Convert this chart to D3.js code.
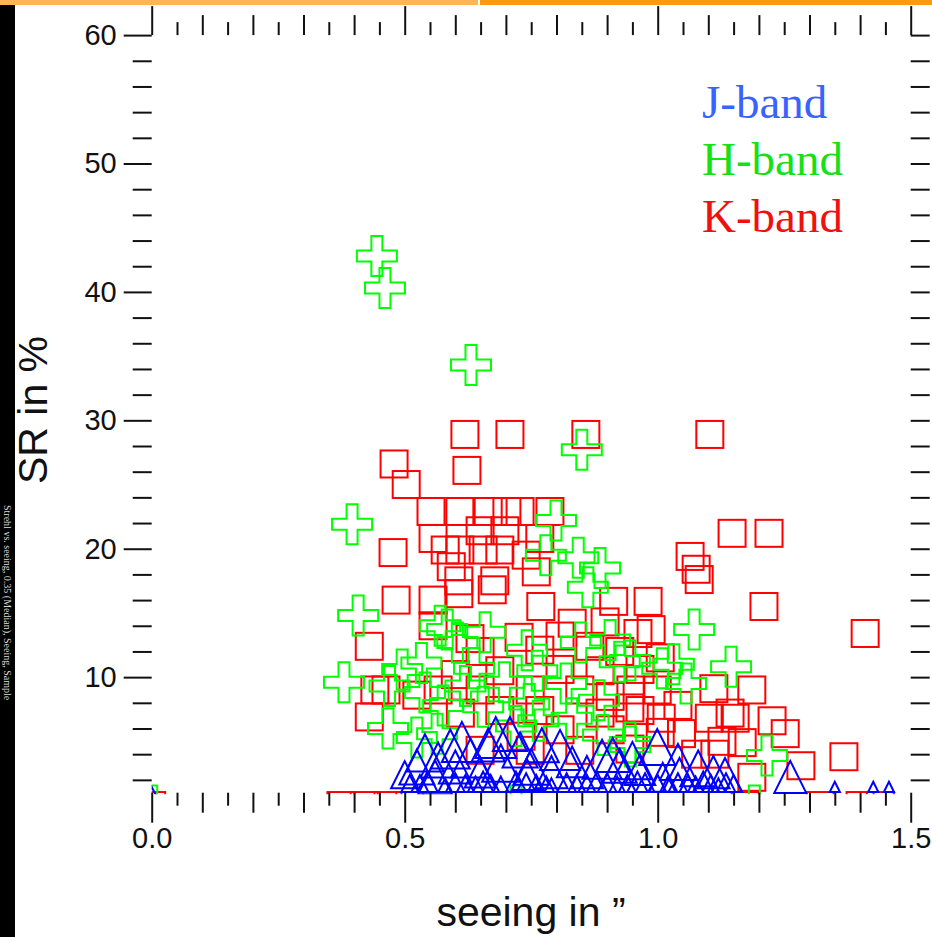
<!DOCTYPE html>
<html>
<head>
<meta charset="utf-8">
<script src="https://cdn.jsdelivr.net/npm/d3@7"></script>
<style>
body { margin: 0; background: #fff; }
svg { display: block; }
</style>
</head>
<body>
<script>
// K-band points (red squares): seeing in arcsec, Strehl ratio in %
var kSeeing = [0.619, 0.708, 0.858, 1.103, 0.479, 0.503, 0.623, 1.410, 1.147, 1.220,
               1.064, 1.076, 1.082, 1.210, 0.981, 0.961, 0.987, 1.186, 0.999, 1.111,
               1.226, 1.252, 1.102, 1.143, 1.368, 1.283, 1.186, 1.127, 1.007, 1.047,
               0.947, 0.945, 1.153, 1.167, 0.483, 0.430, 0.441, 0.463, 0.430, 0.477,
               0.552, 0.609, 0.665, 0.702, 0.728, 0.787, 0.556, 0.649, 0.698, 0.767,
               0.580, 0.609, 0.655, 0.688, 0.740, 0.592, 0.607, 0.678, 0.760, 0.556,
               0.607, 0.673, 0.769, 0.831, 0.896, 0.913, 0.556, 0.726, 0.629, 0.807,
               0.866, 0.649, 0.767, 0.925, 1.005, 0.688, 0.807, 0.886, 0.965, 0.600,
               0.649, 0.748, 0.846, 0.906, 0.566, 0.524, 0.688, 0.767, 0.886, 0.965,
               1.040, 0.610, 0.807, 0.906, 1.005, 0.730, 0.649, 0.748, 0.846, 0.945,
               1.075, 1.113, 0.000, 0.374, 0.420, 0.467, 0.510, 1.173, 1.321, 1.400, 1.440];
var kSR = [28.9, 28.9, 28.9, 28.9, 26.6, 25.0, 26.1, 13.4, 21.2, 21.2,
           19.4, 18.4, 17.6, 15.5, 15.9, 13.4, 13.7, 9.0, 9.0, 9.1,
           6.6, 5.6, 6.8, 7.2, 3.8, 3.1, 2.2, 5.0, 6.8, 5.6,
           9.0, 7.6, 6.8, 4.9, 16.0, 12.4, 9.0, 9.0, 6.9, 19.7,
           22.9, 22.9, 22.9, 22.9, 22.9, 22.9, 20.8, 21.4, 21.4, 20.8,
           19.9, 19.9, 19.9, 19.9, 19.5, 18.6, 17.5, 17.5, 18.2, 16.0,
           16.5, 16.8, 15.5, 14.2, 14.3, 15.9, 14.0, 13.1, 13.0, 13.2,
           12.4, 12.0, 12.1, 12.0, 11.5, 10.5, 10.6, 10.5, 10.6, 10.2,
           9.0, 9.0, 9.0, 8.5, 9.0, 8.6, 7.4, 7.4, 7.2, 7.4,
           7.8, 7.2, 5.9, 5.9, 5.7, 5.4, 4.3, 4.3, 4.3, 4.4,
           4.0, 4.0, 0.0, 0.0, 0.0, 0.0, 0.0, 0.0, 0.0, 0.0, 0.0];

// H-band points (green crosses)
var hSeeing = [0.445, 0.461, 0.631, 0.850, 0.396, 0.799, 0.779, 0.843, 0.886, 0.862,
               0.408, 1.072, 1.032, 1.056, 1.145, 0.945, 1.216, 0.946, 0.380, 0.495,
               0.533, 0.584, 0.604, 0.659, 0.637, 0.742, 0.762, 0.848, 0.925, 0.697,
               0.576, 0.655, 0.746, 0.819, 0.884, 0.467, 0.524, 0.564, 0.892, 0.945,
               0.764, 1.009, 0.906, 0.570, 0.470, 0.540, 0.620, 0.720, 0.830, 0.000,
               1.191, 0.720];
var hSR = [42.8, 40.3, 34.3, 27.7, 21.9, 22.2, 19.5, 19.3, 18.5, 17.0,
           14.8, 13.7, 11.0, 9.5, 10.8, 11.3, 3.9, 4.6, 9.6, 10.6,
           11.1, 13.7, 12.7, 13.5, 10.7, 12.1, 10.5, 12.7, 11.2, 9.6,
           7.8, 7.7, 7.9, 9.5, 8.2, 6.0, 5.3, 5.6, 5.5, 4.9,
           6.6, 10.7, 12.9, 14.0, 9.3, 8.8, 9.3, 6.2, 6.8, 0.0,
           0.0, 0.0];

// J-band points (blue triangles), with a relative symbol size
var jSeeing = [0.613, 0.665, 0.728, 0.807, 0.771, 0.831, 0.911, 0.566, 0.524, 0.600,
               0.649, 0.742, 0.999, 1.040, 1.133, 1.043, 1.262, 0.925, 0.965, 1.350,
               1.426, 1.457, 0.708, 0.500, 0.510, 0.545, 0.580, 0.620, 0.655, 0.690,
               0.720, 0.760, 0.790, 0.820, 0.860, 0.880, 0.940, 0.975, 1.020, 1.060,
               1.090, 1.120, 1.150, 0.000,
               0.560, 0.630, 0.690, 0.750, 0.790, 0.860, 0.890, 0.950, 1.080, 1.110,
               1.010, 0.540, 0.680, 0.590,
               0.530, 0.600, 0.640, 0.670, 0.740, 0.780, 0.840, 0.900, 0.920, 0.960,
               1.000, 1.040, 1.075, 1.105, 1.135];
var jSR = [4.95, 4.72, 4.33, 4.33, 4.70, 3.40, 3.94, 3.55, 3.00, 3.00,
           2.60, 2.40, 4.56, 3.40, 2.38, 2.38, 2.23, 3.10, 2.80, 1.45,
           1.45, 1.45, 5.57, 2.40, 1.72, 1.85, 1.59, 1.72, 1.85, 1.66,
           1.85, 1.72, 1.59, 1.79, 1.72, 1.85, 1.72, 1.79, 1.66, 1.72,
           1.85, 1.59, 1.72, 0.00,
           2.20, 3.70, 3.30, 3.00, 2.60, 2.60, 3.60, 3.50, 2.90, 2.60,
           2.20, 4.10, 5.30, 4.40,
           1.72, 1.79, 1.66, 1.72, 1.79, 1.66, 1.72, 1.79, 1.66, 1.85,
           1.72, 1.79, 1.66, 1.72, 1.79];
var jSymSize = [1.18, 0.97, 1.03, 1.18, 1.00, 0.90, 1.00, 1.03, 1.03, 0.97,
                0.90, 0.90, 1.06, 1.06, 1.00, 1.00, 0.94, 1.00, 0.90, 0.30,
                0.30, 0.30, 1.00, 0.80, 0.50, 0.60, 0.40, 0.50, 0.60, 0.45,
                0.60, 0.50, 0.40, 0.55, 0.50, 0.60, 0.50, 0.55, 0.45, 0.50,
                0.60, 0.40, 0.50, 1.10,
                1.00, 1.15, 1.10, 1.05, 0.95, 0.95, 1.15, 1.10, 1.05, 0.95,
                0.85, 1.10, 1.20, 1.15,
                0.50, 0.55, 0.45, 0.50, 0.55, 0.45, 0.50, 0.55, 0.45, 0.60,
                0.50, 0.55, 0.45, 0.50, 0.55];

// axis tick labels and legend
var xMajorTicks = [0.0, 0.5, 1.0, 1.5];
var yMajorTicks = [10, 20, 30, 40, 50, 60];
var bandNames = ["J-band", "H-band", "K-band"];
var bandColors = ["#3a62ff", "#16e016", "#f01010"];

window.onload = function(){
    var w = 932, h = 937;
    var container = d3.select("body")
        .append("svg")
        .attr("width", w)
        .attr("height", h);

    // slide frame: orange strip on top, black strip on the left
    container.append("rect").attr("x", 0).attr("y", 0).attr("width", 478).attr("height", 5)
        .style("fill", "#ffb652");
    container.append("rect").attr("x", 480).attr("y", 0).attr("width", 452).attr("height", 5)
        .style("fill", "#ff9912");
    container.append("rect").attr("x", 0).attr("y", 5).attr("width", 15).attr("height", 932)
        .style("fill", "#000");
    container.append("text")
        .attr("transform", "translate(4,505) rotate(90)")
        .style("font-family", "'Liberation Serif', serif")
        .style("font-size", "10px")
        .style("fill", "#ddd")
        .text("Strehl vs. seeing, 0.35 (Median), Seeing, Sample");

    // scales
    var x = d3.scaleLinear().domain([0, 1.5]).range([151.7, 910.7]);
    var y = d3.scaleLinear().domain([1, 60]).range([792.7, 35.1]);
    var triSize = d3.scaleLinear().domain([0, 1]).range([0, 34]);

    // clip symbols to the plot box
    container.append("clipPath").attr("id", "plotClip")
        .append("rect")
        .attr("x", x(0))
        .attr("y", y(60))
        .attr("width", x(1.5) - x(0))
        .attr("height", y(1) - y(60) + 1.5);

    var plot = container.append("g").attr("clip-path", "url(#plotClip)");

    // K-band squares
    plot.selectAll(".kband")
        .data(d3.range(kSeeing.length))
        .enter()
        .append("rect")
        .attr("class", "kband")
        .attr("x", function(i){ return x(kSeeing[i]) - 13.5; })
        .attr("y", function(i){ return y(kSR[i]) - 13.5; })
        .attr("width", 27)
        .attr("height", 27)
        .style("fill", "none")
        .style("stroke", "#ff0000")
        .style("stroke-width", 2);

    // H-band crosses
    var a = 20, b = 5.5;
    var cross = "M" + (-b) + "," + (-a) + "H" + b + "V" + (-b) + "H" + a + "V" + b + "H" + b +
                "V" + a + "H" + (-b) + "V" + b + "H" + (-a) + "V" + (-b) + "H" + (-b) + "Z";
    plot.selectAll(".hband")
        .data(d3.range(hSeeing.length))
        .enter()
        .append("path")
        .attr("class", "hband")
        .attr("d", cross)
        .attr("transform", function(i){ return "translate(" + x(hSeeing[i]) + "," + y(hSR[i]) + ")"; })
        .style("fill", "none")
        .style("stroke", "#00ff00")
        .style("stroke-width", 2);

    // J-band triangles, size varies
    plot.selectAll(".jband")
        .data(d3.range(jSeeing.length))
        .enter()
        .append("path")
        .attr("class", "jband")
        .attr("d", function(i){
            var s = triSize(jSymSize[i]) / 2;
            return "M0," + (-s) + "L" + s + "," + s + "L" + (-s) + "," + s + "Z";
        })
        .attr("transform", function(i){ return "translate(" + x(jSeeing[i]) + "," + y(jSR[i]) + ")"; })
        .style("fill", "none")
        .style("stroke", "#0000ff")
        .style("stroke-width", 2);

    // ticks: helper to strip the domain line and style ticks
    function styleAxis(g){
        g.select(".domain").remove();
        g.selectAll(".tick line").attr("stroke", "#111").attr("stroke-width", 2);
        g.selectAll(".tick text")
            .style("font-family", "'Liberation Sans', Arial, sans-serif")
            .style("font-size", "29px")
            .attr("fill", "#111");
    }
    function notMajor(v, step){ return Math.abs(v / step - Math.round(v / step)) > 1e-6; }

    var xMid = d3.range(0.1, 1.45, 0.1).filter(function(v){ return notMajor(v, 0.5); });
    var xShort = d3.range(0.05, 1.5, 0.1);
    var yMinor = d3.range(2, 60, 2).filter(function(v){ return notMajor(v, 10); });

    // bottom axis
    container.append("g").attr("transform", "translate(0," + y(1) + ")")
        .call(d3.axisBottom(x).tickValues(xMajorTicks).tickSize(30).tickPadding(5).tickFormat(d3.format(".1f")))
        .call(styleAxis);
    container.append("g").attr("transform", "translate(0," + y(1) + ")")
        .call(d3.axisBottom(x).tickValues(xMid).tickSize(20).tickFormat(""))
        .call(styleAxis);
    container.append("g").attr("transform", "translate(0," + y(1) + ")")
        .call(d3.axisBottom(x).tickValues(xShort).tickSize(13).tickFormat(""))
        .call(styleAxis);

    // top axis
    container.append("g").attr("transform", "translate(0," + y(60) + ")")
        .call(d3.axisTop(x).tickValues(xMajorTicks).tickSize(29).tickFormat(""))
        .call(styleAxis);
    container.append("g").attr("transform", "translate(0," + y(60) + ")")
        .call(d3.axisTop(x).tickValues(xMid).tickSize(20).tickFormat(""))
        .call(styleAxis);
    container.append("g").attr("transform", "translate(0," + y(60) + ")")
        .call(d3.axisTop(x).tickValues(xShort).tickSize(13).tickFormat(""))
        .call(styleAxis);

    // left axis
    container.append("g").attr("transform", "translate(" + x(0) + ",0)")
        .call(d3.axisLeft(y).tickValues(yMajorTicks).tickSize(28).tickPadding(7).tickFormat(d3.format("d")))
        .call(styleAxis);
    container.append("g").attr("transform", "translate(" + x(0) + ",0)")
        .call(d3.axisLeft(y).tickValues(yMinor).tickSize(19).tickFormat(""))
        .call(styleAxis);

    // right axis
    container.append("g").attr("transform", "translate(" + x(1.5) + ",0)")
        .call(d3.axisRight(y).tickValues(d3.range(2, 61, 2)).tickSize(19).tickFormat(""))
        .call(styleAxis);

    // axis titles
    container.append("text")
        .attr("text-anchor", "middle")
        .attr("transform", "translate(47,410) rotate(-90)")
        .style("font-family", "'Liberation Sans', Arial, sans-serif")
        .style("font-size", "41px")
        .style("fill", "#111")
        .text("SR in %");
    container.append("text")
        .attr("text-anchor", "middle")
        .attr("x", 531)
        .attr("y", 926)
        .style("font-family", "'Liberation Sans', Arial, sans-serif")
        .style("font-size", "41px")
        .style("fill", "#111")
        .text("seeing in \u201D");

    // legend
    container.selectAll(".legend")
        .data(bandNames)
        .enter()
        .append("text")
        .attr("class", "legend")
        .attr("x", 702)
        .attr("y", function(d, i){ return 118 + i * 57; })
        .style("font-family", "'Liberation Serif', 'Times New Roman', serif")
        .style("font-size", "47px")
        .style("fill", function(d, i){ return bandColors[i]; })
        .text(function(d){ return d; });
};
</script>
</body>
</html>
